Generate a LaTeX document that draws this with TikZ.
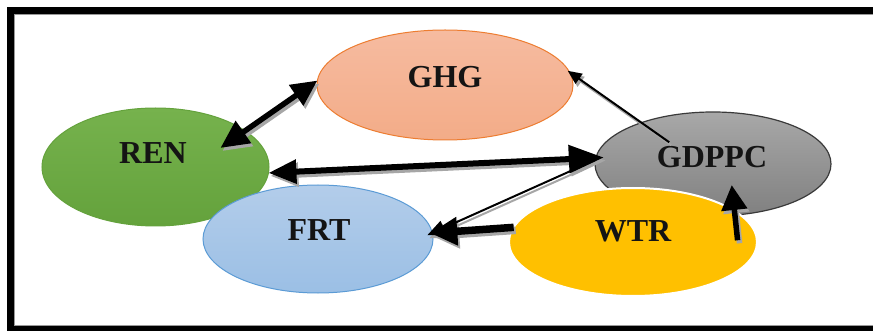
\documentclass[tikz,border=0pt]{standalone}
\usepackage{fontspec}
\setmainfont{Liberation Serif}
\usetikzlibrary{arrows.meta,shapes.geometric}
\definecolor{ghgtop}{HTML}{F6BBA0}
\definecolor{ghgbot}{HTML}{F3AC88}
\definecolor{ghgline}{HTML}{ED7D31}
\definecolor{rentop}{HTML}{76B24D}
\definecolor{renbot}{HTML}{64A23C}
\definecolor{gdptop}{HTML}{A8A8A8}
\definecolor{gdpbot}{HTML}{808080}
\definecolor{gdpline}{HTML}{3A3A3A}
\definecolor{frttop}{HTML}{B3CDEA}
\definecolor{frtbot}{HTML}{9BBFE5}
\definecolor{frtline}{HTML}{5B9BD5}
\definecolor{wtrfill}{HTML}{FFC000}
\newcommand\drawallarrows[1]{%
  \draw[#1, line width=5.5pt, {Triangle[length=26pt,width=24pt]}-{Triangle[length=28pt,width=26pt]}, shorten >=-30pt] (GHG.178) -- (REN.22);
  \draw[#1, line width=6pt, {Triangle[length=28pt,width=23pt]}-{Triangle[length=35pt,width=27pt]}, shorten >=-8pt] (REN.-3) -- (GDPPC.177);
  \draw[#1, line width=2pt, -{Triangle[length=14pt,width=12pt]}, shorten <=-34pt, shorten >=-2pt] (GDPPC.150) -- (GHG.6);
  \draw[#1, line width=2pt, -{Triangle[length=18pt,width=15pt]}, shorten >=-5.5pt] (GDPPC.178) -- (FRT.3);
  \draw[#1, line width=7.5pt, -{Triangle[length=27pt,width=27pt]}, shorten >=-2pt] (WTR.173) -- (FRT.3);
  \draw[#1, line width=5.5pt, -{Triangle[length=25pt,width=25pt]}, shorten <=28.7pt, shorten >=73.2pt] (WTR.-14) -- (GDPPC.78);
}
\begin{document}
\begin{tikzpicture}[x=1pt,y=-1pt,
  bub/.style={ellipse, inner sep=0pt, outer sep=0pt, line width=1pt},
  lbl/.style={inner sep=0pt, outer sep=0pt, font=\bfseries\fontsize{32}{32}\selectfont, text=black!92},
  arrshadow/.style={draw=black!35, transform canvas={shift={(2pt,-3pt)}}},
  arrmain/.style={draw=black}]
\fill[white] (0,0) rectangle (873,331);
\useasboundingbox (0,0) rectangle (873,331);
% frame
\fill[black] (7,7) rectangle (873,14);
\fill[black] (7,7) rectangle (14,331);
\fill[black] (7,326) rectangle (873,331);
\draw[black!40, line width=1pt] (14.5,14.5) -- (873,14.5);
\draw[black!40, line width=1pt] (14.5,14.5) -- (14.5,325.5) -- (873,325.5);
% ellipses
\node[bub, draw=ghgline, top color=ghgtop, bottom color=ghgbot, minimum width=256pt, minimum height=110pt] (GHG) at (445,85) {};
\node[bub, draw=renbot, top color=rentop, bottom color=renbot, minimum width=227pt, minimum height=118pt] (REN) at (155.5,167) {};
\node[bub, draw=gdpline, line width=1.2pt, top color=gdptop, bottom color=gdpbot, minimum width=236pt, minimum height=104pt] (GDPPC) at (713,164) {};
\node[bub, draw=frtline, top color=frttop, bottom color=frtbot, minimum width=230pt, minimum height=108pt] (FRT) at (318,239) {};
\node[bub, draw=white, line width=2pt, fill=wtrfill, minimum width=248pt, minimum height=108pt] (WTR) at (633,242) {};
% labels
\node[lbl] (tGHG) at (445,77) {GHG};
\node[lbl] (tREN) at (153,153) {REN};
\node[lbl] (tGDPPC) at (712,157) {GDPPC};
\node[lbl] (tFRT) at (319,230) {FRT};
\node[lbl] (tWTR) at (633,231) {WTR};
% arrows
\drawallarrows{arrshadow}
\drawallarrows{arrmain}
\end{tikzpicture}
\end{document}
